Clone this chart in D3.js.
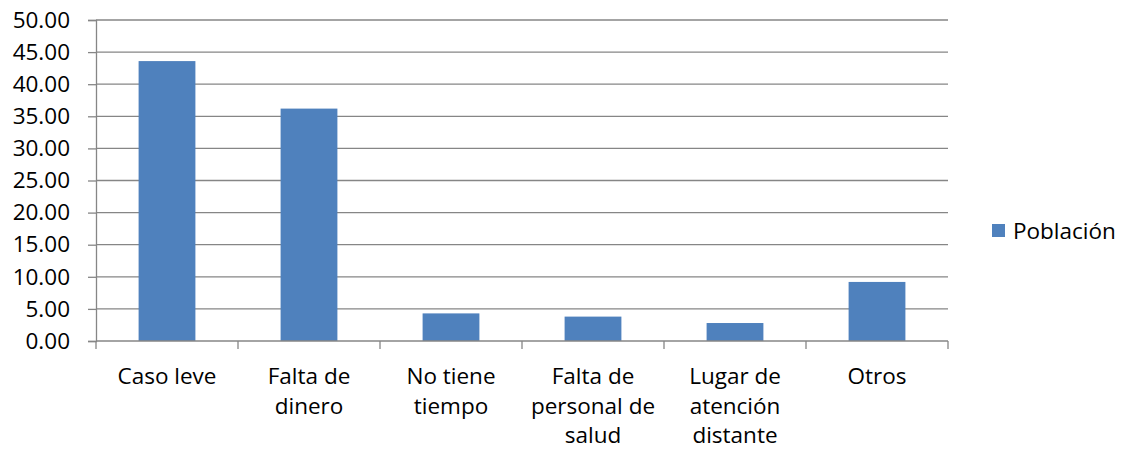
<!DOCTYPE html>
<html><head><meta charset="utf-8">
<script src="https://cdn.jsdelivr.net/npm/d3@7"></script>
<style>body{margin:0;background:#fff}svg{display:block}text{font-family:"Open Sans",sans-serif;fill:#000}</style>
</head><body>
<svg id="c" width="1122" height="452"></svg>
<script>
const categories = [["Caso leve"],["Falta de","dinero"],["No tiene","tiempo"],["Falta de","personal de","salud"],["Lugar de","atención","distante"],["Otros"]];
const values = [43.6, 36.2, 4.3, 3.8, 2.8, 9.2];
const yTicks = [0,5,10,15,20,25,30,35,40,45,50];
const seriesName = "Población";

const svg = d3.select("#c");
const m = {l:96, r:948, t:20, b:341};
const keys = categories.map((c,i)=>i);
const x = d3.scaleBand().domain(keys).range([m.l, m.r]).paddingInner(0.6).paddingOuter(0.3);
const xb = d3.scaleBand().domain(keys).range([m.l, m.r]);
const y = d3.scaleLinear().domain([0,50]).range([m.b, m.t]);
const grid="#868686";
const fs = 22.5;

// gridlines
svg.append("g").selectAll("line").data(yTicks.filter(d=>d>0)).join("line")
  .attr("x1",m.l).attr("x2",m.r).attr("y1",d=>y(d)).attr("y2",d=>y(d))
  .attr("stroke",grid).attr("stroke-width",1.3);

// y axis
const ya = svg.append("g").attr("transform",`translate(${m.l},0)`)
  .call(d3.axisLeft(y).tickValues(yTicks).tickFormat(d3.format(".2f")).tickSize(8).tickPadding(18));
ya.select(".domain").attr("stroke",grid).attr("stroke-width",1.3);
ya.selectAll(".tick line").attr("stroke",grid).attr("stroke-width",1.3);
ya.selectAll("text").attr("font-size",fs).attr("font-family","'Open Sans',sans-serif").attr("fill","#000");

// bars
svg.append("g").selectAll("rect").data(values).join("rect")
  .attr("x",(d,i)=>x(i)).attr("width",x.bandwidth())
  .attr("y",d=>y(d)).attr("height",d=>y(0)-y(d)).attr("fill","#4F81BD");

// x axis
const xa = svg.append("g").attr("transform",`translate(0,${m.b})`);
xa.append("line").attr("x1",m.l).attr("x2",m.r).attr("stroke",grid).attr("stroke-width",1.3);
xa.selectAll("line.t").data(d3.range(keys.length+1)).join("line").attr("class","t")
  .attr("x1",i=>m.l+i*xb.step()).attr("x2",i=>m.l+i*xb.step()).attr("y1",0).attr("y2",8)
  .attr("stroke",grid).attr("stroke-width",1.3);
const lab = xa.selectAll("text").data(categories).join("text")
  .attr("text-anchor","middle").attr("font-size",fs)
  .attr("transform",(d,i)=>`translate(${xb(i)+xb.bandwidth()/2},0)`);
lab.selectAll("tspan").data(d=>d).join("tspan").attr("x",0).attr("y",(d,j)=>43+j*29.5).text(d=>d);

// legend
const lg = svg.append("g").attr("transform","translate(992,224)");
lg.append("rect").attr("width",13).attr("height",13).attr("fill","#4F81BD");
lg.append("text").attr("x",21).attr("y",15).attr("font-size",fs).text(seriesName);
</script>
</body></html>
